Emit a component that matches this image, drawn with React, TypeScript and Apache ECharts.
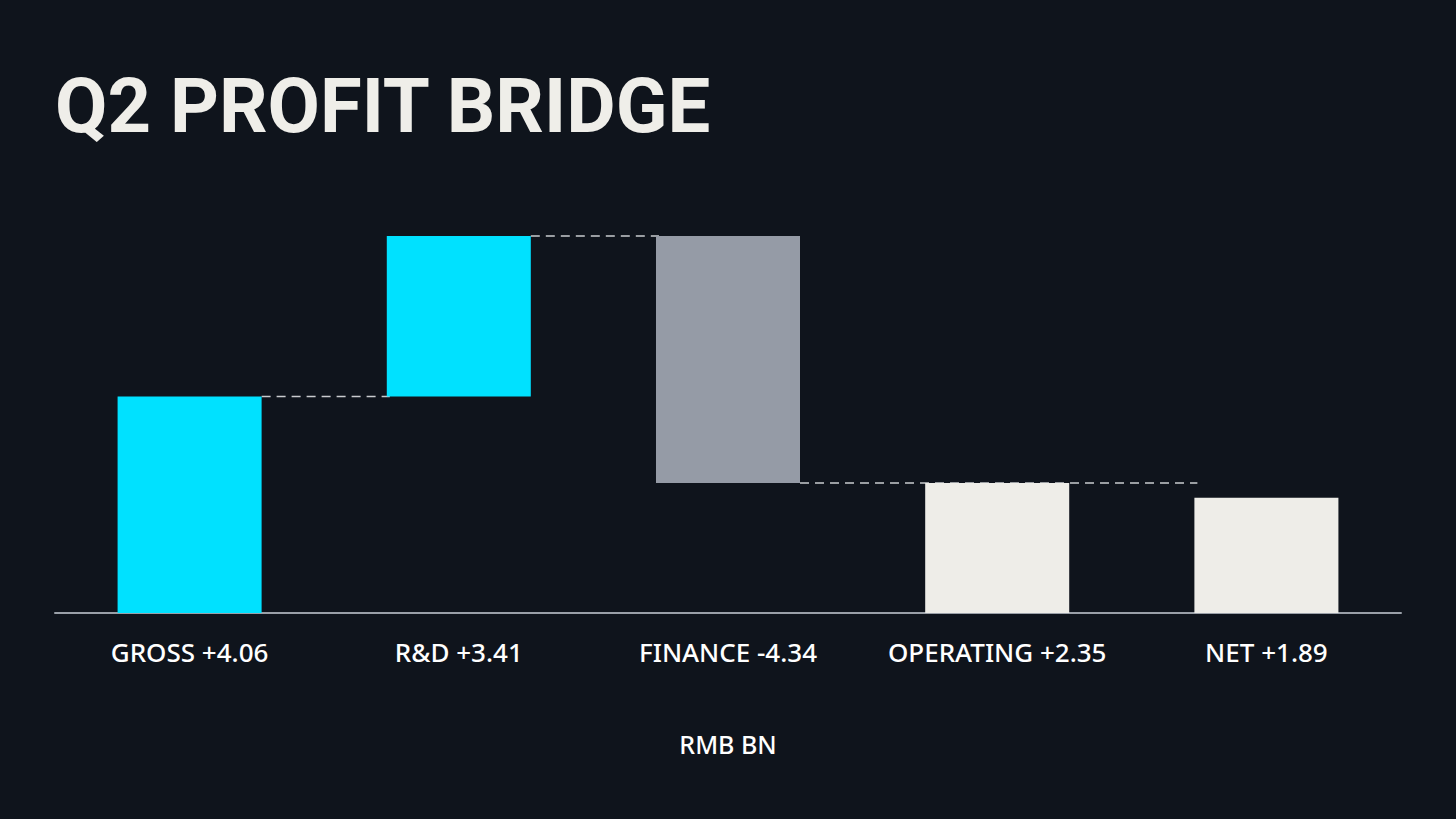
import React, { useEffect, useRef } from "react";
import * as echarts from "echarts";

const categories = ["GROSS +4.06", "R&D +3.41", "FINANCE -4.34", "OPERATING +2.35", "NET +1.89"];
// bar bottoms and tops (RMB BN)
const barLow = [0, 4.06, 2.44, 0, 0];
const barHigh = [4.06, 7.07, 7.07, 2.44, 2.16];
const barColors = ["#00e1ff", "#00e1ff", "#959ba6", "#eeede8", "#eeede8"];
// connectors: [from category, to category, level]
const connectors = [
  [0, 1, 4.06],
  [1, 2, 7.07],
  [2, 4, 2.44],
];
const titleText = "Q2 PROFIT BRIDGE";
const unitText = "RMB BN";

const BAR_RATIO = 0.535;

export default function App() {
  const ref = useRef<HTMLDivElement>(null);
  useEffect(() => {
    if (!ref.current) return;
    const chart = echarts.init(ref.current, null, { renderer: "svg" });
    const option: any = {
      animation: false,
      backgroundColor: "#0f141c",
      grid: { left: 55, right: 55, top: 612 - 8 * 53.2, bottom: 819 - 613, containLabel: false },
      graphic: [
        {
          type: "text",
          left: 55,
          top: 68,
          style: {
            text: titleText,
            fill: "#efeee9",
            font: "bold 76px Roboto",
          },
        },
      ],
      xAxis: {
        type: "category",
        data: categories,
        axisLine: { show: true, lineStyle: { color: "#9aa0a8", width: 2 } },
        axisTick: { show: false },
        axisLabel: {
          interval: 0,
          hideOverlap: false,
          color: "#ffffff",
          fontFamily: "Noto Sans",
          fontSize: 26,
          fontWeight: 500,
          margin: 26,
        },
        name: unitText,
        nameLocation: "middle",
        nameGap: 118,
        nameTextStyle: { color: "#ffffff", fontFamily: "Noto Sans", fontSize: 25, fontWeight: 500 },
      },
      yAxis: {
        type: "value",
        min: 0,
        max: 8,
        show: false,
        splitLine: { show: false },
      },
      series: [
        {
          type: "custom",
          z: 1,
          silent: true,
          data: connectors,
          renderItem: (params: any, api: any) => {
            const p1 = api.coord([api.value(0), api.value(2)]);
            const p2 = api.coord([api.value(1), api.value(2)]);
            const bw = api.size([1, 0])[0] * BAR_RATIO;
            return {
              type: "line",
              shape: { x1: p1[0] + bw / 2, y1: p1[1], x2: p2[0] - bw / 2 + 3, y2: p2[1] },
              style: { stroke: "#c9cbce", lineWidth: 1.5, lineDash: [9, 6] },
            };
          },
        },
        {
          type: "bar",
          stack: "w",
          z: 2,
          barWidth: BAR_RATIO * 100 + "%",
          itemStyle: { color: "transparent" },
          data: barLow,
          silent: true,
        },
        {
          type: "bar",
          stack: "w",
          z: 2,
          barWidth: BAR_RATIO * 100 + "%",
          data: barHigh.map((h, i) => ({
            value: +(h - barLow[i]).toFixed(2),
            itemStyle: { color: barColors[i] },
          })),
        },
      ],
    };
    chart.setOption(option);
    return () => chart.dispose();
  }, []);
  return (
    <div
      ref={ref}
      style={{ position: "fixed", left: 0, top: 0, width: 1456, height: 819 }}
    />
  );
}
